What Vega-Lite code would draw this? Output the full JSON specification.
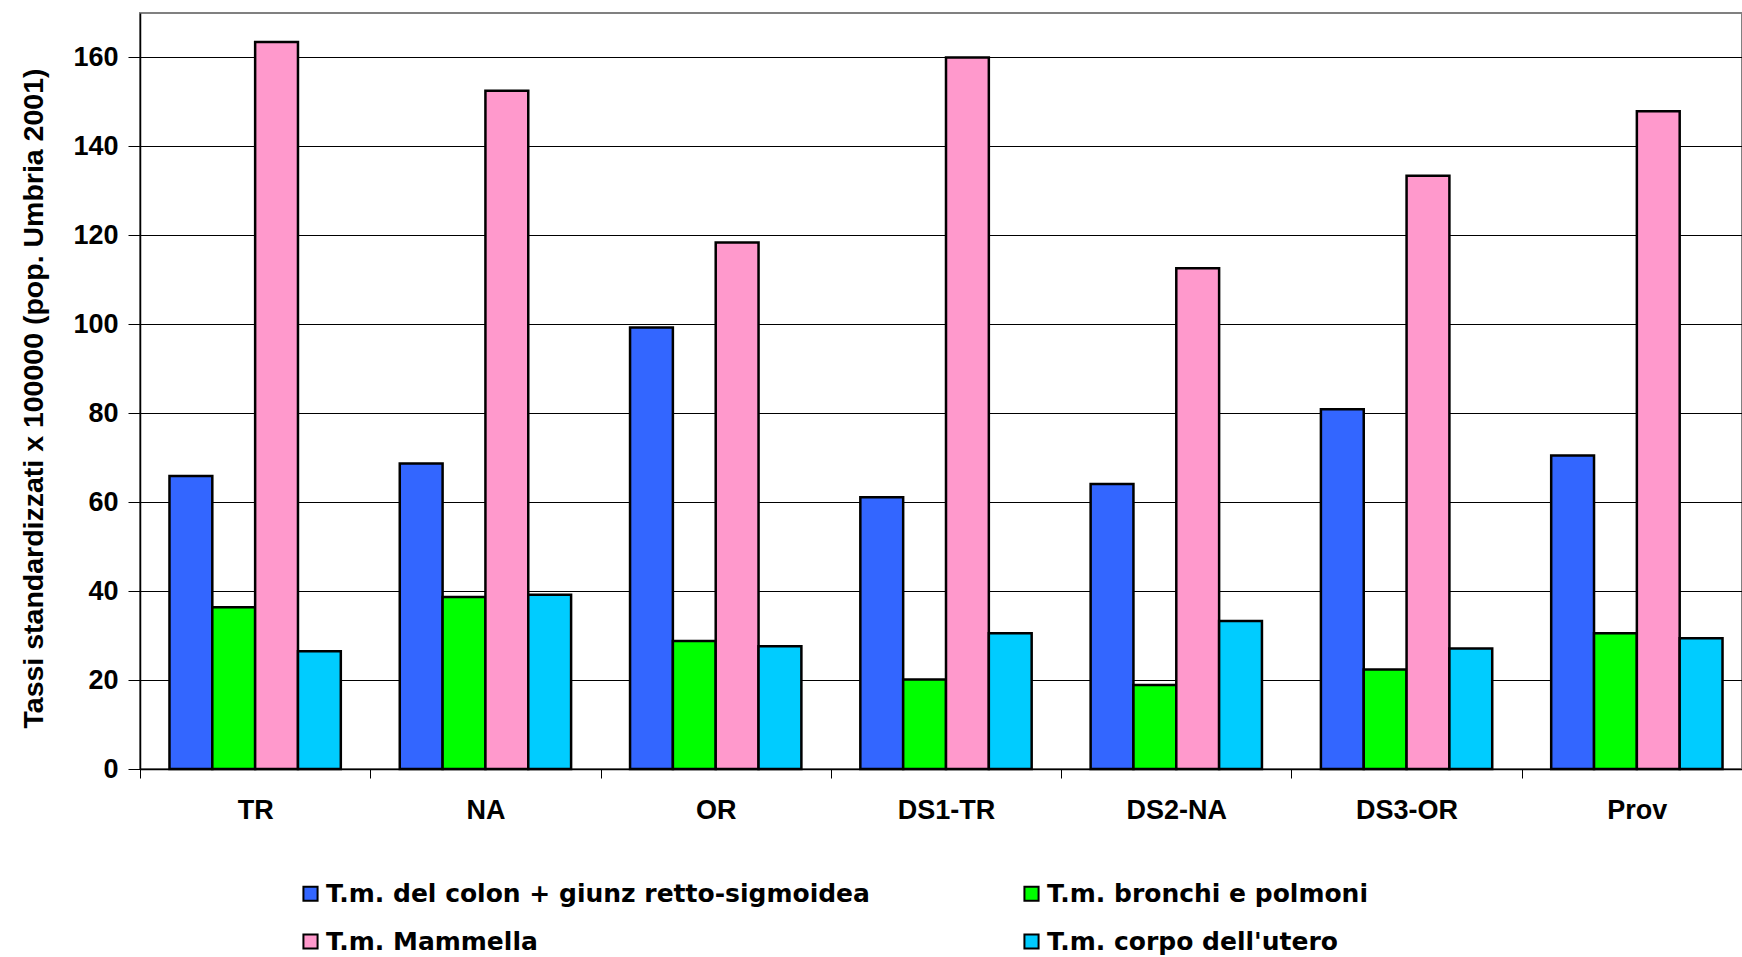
{
  "$schema": "https://vega.github.io/schema/vega-lite/v6.json",
  "autosize": {"type": "none"},
  "padding": {"left": 140, "top": 13, "right": 0, "bottom": 188},
  "width": 1602,
  "height": 756,
  "background": "white",
  "config": {
    "view": {"stroke": "#808080", "strokeWidth": 2},
    "font": "Liberation Sans"
  },
  "data": {
    "values": [
      {"area": "TR", "causa": "T.m. del colon + giunz retto-sigmoidea", "tasso": 65.9},
      {"area": "TR", "causa": "T.m. bronchi e polmoni", "tasso": 36.4},
      {"area": "TR", "causa": "T.m. Mammella", "tasso": 163.5},
      {"area": "TR", "causa": "T.m. corpo dell'utero", "tasso": 26.5},
      {"area": "NA", "causa": "T.m. del colon + giunz retto-sigmoidea", "tasso": 68.7},
      {"area": "NA", "causa": "T.m. bronchi e polmoni", "tasso": 38.7},
      {"area": "NA", "causa": "T.m. Mammella", "tasso": 152.5},
      {"area": "NA", "causa": "T.m. corpo dell'utero", "tasso": 39.2},
      {"area": "OR", "causa": "T.m. del colon + giunz retto-sigmoidea", "tasso": 99.3},
      {"area": "OR", "causa": "T.m. bronchi e polmoni", "tasso": 28.8},
      {"area": "OR", "causa": "T.m. Mammella", "tasso": 118.4},
      {"area": "OR", "causa": "T.m. corpo dell'utero", "tasso": 27.6},
      {"area": "DS1-TR", "causa": "T.m. del colon + giunz retto-sigmoidea", "tasso": 61.1},
      {"area": "DS1-TR", "causa": "T.m. bronchi e polmoni", "tasso": 20.1},
      {"area": "DS1-TR", "causa": "T.m. Mammella", "tasso": 160.0},
      {"area": "DS1-TR", "causa": "T.m. corpo dell'utero", "tasso": 30.5},
      {"area": "DS2-NA", "causa": "T.m. del colon + giunz retto-sigmoidea", "tasso": 64.1},
      {"area": "DS2-NA", "causa": "T.m. bronchi e polmoni", "tasso": 18.9},
      {"area": "DS2-NA", "causa": "T.m. Mammella", "tasso": 112.6},
      {"area": "DS2-NA", "causa": "T.m. corpo dell'utero", "tasso": 33.3},
      {"area": "DS3-OR", "causa": "T.m. del colon + giunz retto-sigmoidea", "tasso": 80.9},
      {"area": "DS3-OR", "causa": "T.m. bronchi e polmoni", "tasso": 22.4},
      {"area": "DS3-OR", "causa": "T.m. Mammella", "tasso": 133.4},
      {"area": "DS3-OR", "causa": "T.m. corpo dell'utero", "tasso": 27.1},
      {"area": "Prov", "causa": "T.m. del colon + giunz retto-sigmoidea", "tasso": 70.5},
      {"area": "Prov", "causa": "T.m. bronchi e polmoni", "tasso": 30.5},
      {"area": "Prov", "causa": "T.m. Mammella", "tasso": 147.9},
      {"area": "Prov", "causa": "T.m. corpo dell'utero", "tasso": 29.4}
    ]
  },
  "mark": {"type": "bar", "stroke": "black", "strokeWidth": 2.5, "opacity": 1},
  "encoding": {
    "x": {
      "field": "area",
      "type": "nominal",
      "sort": ["TR", "NA", "OR", "DS1-TR", "DS2-NA", "DS3-OR", "Prov"],
      "scale": {"range": [0, 1612], "paddingInner": 0.256, "paddingOuter": 0.128},
      "axis": {
        "title": null,
        "labelAngle": 0,
        "labelFont": "Liberation Sans",
        "labelFontWeight": "bold",
        "labelFontSize": 27,
        "labelColor": "black",
        "labelPadding": 19,
        "tickBand": "center",
        "tickOffset": -115.14,
        "labelOffset": 115.14,
        "tickColor": "black",
        "tickSize": 9,
        "tickWidth": 1,
        "domainColor": "black",
        "domainWidth": 1.5,
        "grid": false
      }
    },
    "xOffset": {
      "field": "causa",
      "type": "nominal",
      "sort": ["T.m. del colon + giunz retto-sigmoidea", "T.m. bronchi e polmoni", "T.m. Mammella", "T.m. corpo dell'utero"],
      "scale": {"paddingInner": 0, "paddingOuter": 0}
    },
    "y": {
      "field": "tasso",
      "type": "quantitative",
      "scale": {"domain": [0, 170], "nice": false},
      "axis": {
        "title": "Tassi standardizzati x 100000 (pop. Umbria 2001)",
        "titleFont": "Liberation Sans",
        "titleFontWeight": "bold",
        "titleFontSize": 28.5,
        "titleColor": "black",
        "titleAngle": -90,
        "titleAlign": "center",
        "titleBaseline": "middle",
        "titleX": -107,
        "titleY": 385,
        "values": [0, 20, 40, 60, 80, 100, 120, 140, 160],
        "labelFont": "Liberation Sans",
        "labelFontWeight": "bold",
        "labelFontSize": 27,
        "labelColor": "black",
        "labelPadding": 10,
        "tickColor": "black",
        "tickSize": 12,
        "tickWidth": 1,
        "domainColor": "black",
        "domainWidth": 1.5,
        "grid": true,
        "gridColor": "black",
        "gridWidth": 1
      }
    },
    "fill": {
      "field": "causa",
      "type": "nominal",
      "scale": {
        "domain": ["T.m. del colon + giunz retto-sigmoidea", "T.m. bronchi e polmoni", "T.m. Mammella", "T.m. corpo dell'utero"],
        "range": ["#3366FF", "#00FF00", "#FF99CC", "#00CCFF"]
      },
      "legend": {
        "title": null,
        "orient": "none",
        "legendX": 158,
        "legendY": 868,
        "direction": "horizontal",
        "columns": 2,
        "columnPadding": 149,
        "rowPadding": 22,
        "padding": 0,
        "symbolType": "square",
        "symbolSize": 200,
        "symbolStrokeColor": "black",
        "symbolStrokeWidth": 2,
        "symbolOpacity": 1,
        "labelFont": "DejaVu Sans",
        "labelFontWeight": "bold",
        "labelFontSize": 25,
        "labelColor": "black",
        "labelOffset": 3,
        "labelLimit": 800,
        "encode": {
          "symbols": {
            "update": {
              "stroke": {"value": "black"},
              "strokeWidth": {"value": 2}
            }
          }
        }
      }
    }
  }
}
